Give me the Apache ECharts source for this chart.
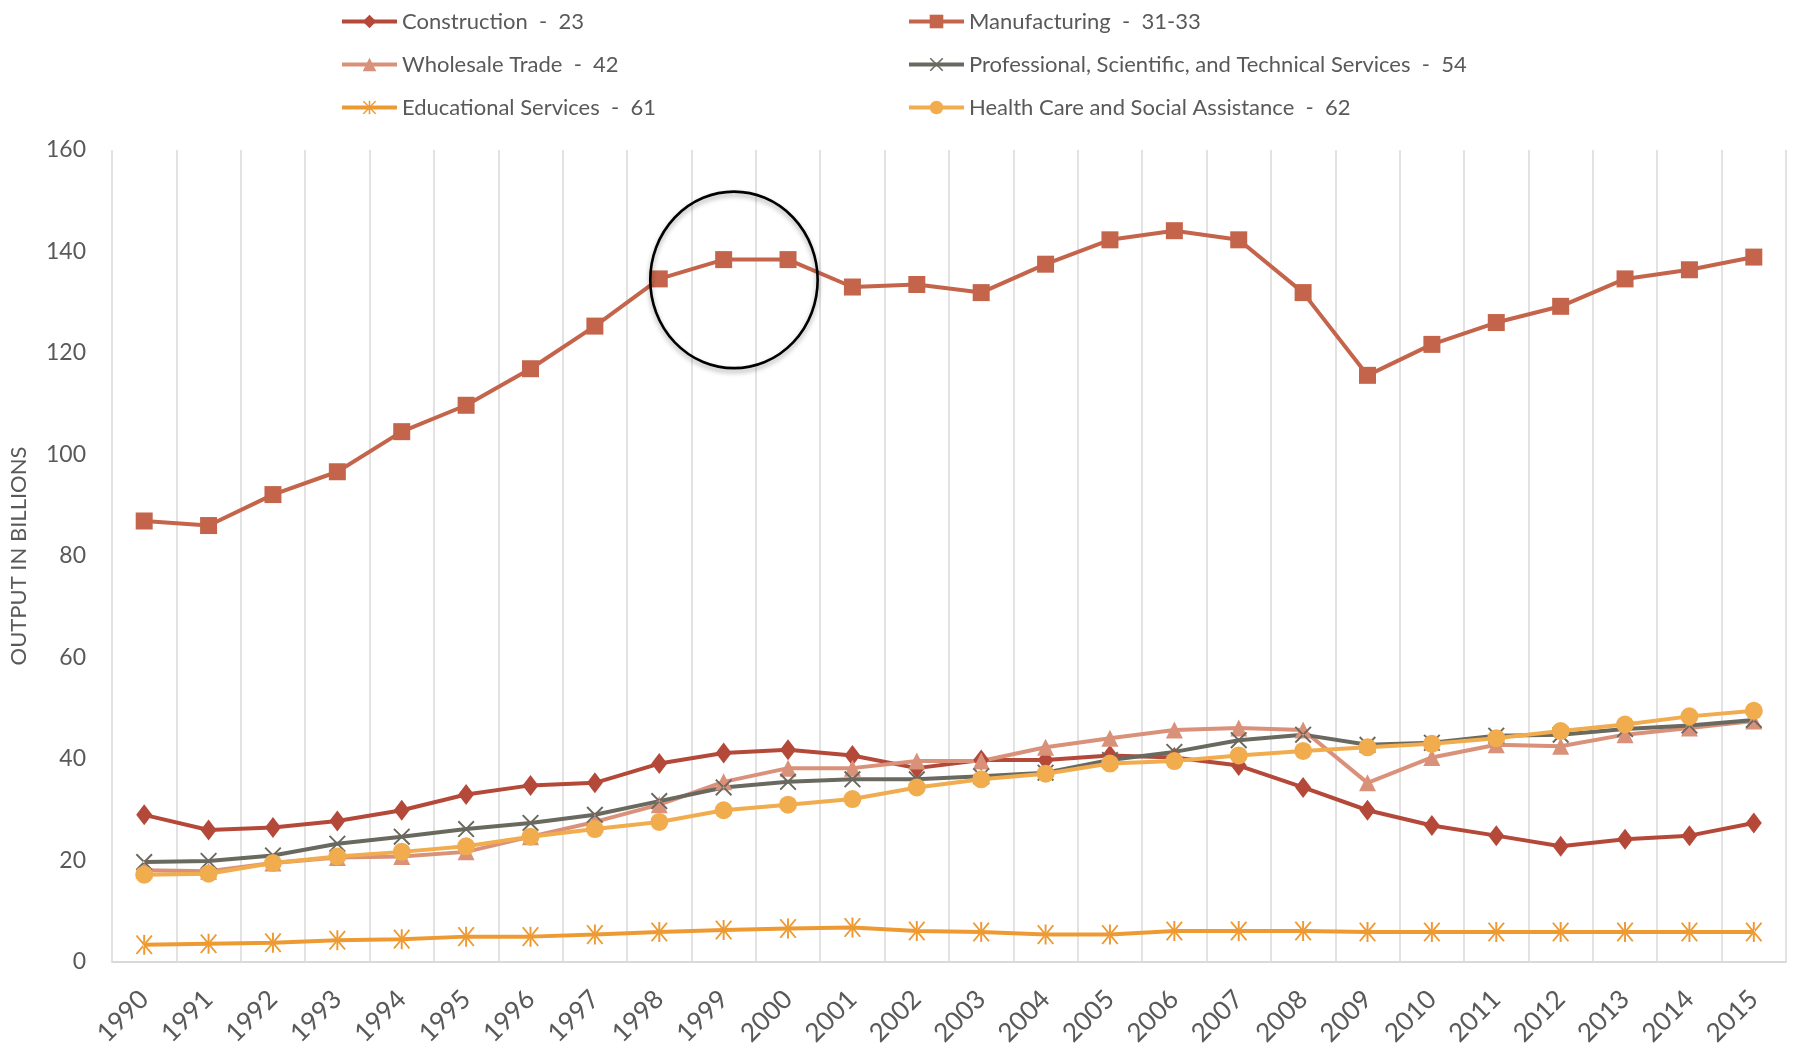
<!DOCTYPE html>
<html>
<head>
<meta charset="utf-8">
<script src="https://cdn.jsdelivr.net/npm/echarts@6/dist/echarts.min.js"></script>
<style>
  html, body { margin: 0; padding: 0; background: #fff; }
  #chart { width: 1800px; height: 1054px; }
</style>
</head>
<body>
<div id="chart"></div>
<script>
// categories
const years = ['1990', '1991', '1992', '1993', '1994', '1995', '1996', '1997', '1998', '1999',
  '2000', '2001', '2002', '2003', '2004', '2005', '2006', '2007', '2008', '2009',
  '2010', '2011', '2012', '2013', '2014', '2015'];

// output in billions
const construction = [29.0, 26.0, 26.5, 27.8, 29.9, 33.0, 34.8, 35.3, 39.1, 41.2,
  41.8, 40.7, 38.2, 39.8, 39.8, 40.7, 40.3, 38.7, 34.4, 29.9,
  26.9, 24.9, 22.8, 24.2, 24.9, 27.4];
const manufacturing = [86.9, 86.0, 92.1, 96.6, 104.5, 109.7, 116.9, 125.3, 134.6, 138.4,
  138.4, 133.0, 133.5, 131.9, 137.5, 142.3, 144.1, 142.3, 131.9, 115.6,
  121.7, 126.0, 129.2, 134.6, 136.4, 138.9];
const wholesale = [18.1, 17.9, 19.5, 20.6, 20.8, 21.7, 24.7, 27.6, 31.0, 35.5,
  38.2, 38.2, 39.6, 39.6, 42.3, 44.1, 45.7, 46.1, 45.7, 35.3,
  40.3, 42.8, 42.5, 44.8, 46.1, 47.5];
const professional = [19.7, 19.9, 21.0, 23.3, 24.7, 26.2, 27.4, 29.0, 31.7, 34.4,
  35.5, 36.0, 36.0, 36.6, 37.3, 39.8, 41.4, 43.7, 44.8, 42.8,
  43.2, 44.6, 44.8, 45.9, 46.6, 47.7];
const educational = [3.4, 3.6, 3.8, 4.3, 4.5, 5.0, 5.0, 5.4, 5.9, 6.3,
  6.6, 6.8, 6.1, 5.9, 5.4, 5.4, 6.1, 6.1, 6.1, 5.9,
  5.9, 5.9, 5.9, 5.9, 5.9, 5.9];
const healthCare = [17.2, 17.4, 19.5, 20.8, 21.7, 22.8, 24.7, 26.2, 27.6, 29.9,
  31.0, 32.1, 34.4, 36.0, 37.1, 39.1, 39.6, 40.7, 41.6, 42.3,
  43.0, 44.1, 45.5, 46.8, 48.4, 49.5];

const yTicks = { min: 0, max: 160, interval: 20 };

const FONT = 'Lato, "Open Sans", sans-serif';
const GREY = '#595959';

const xMark = 'path://M0,1.6L1.6,0L20,18.4L18.4,20Z M20,1.6L18.4,0L0,18.4L1.6,20Z';
const starMark = 'path://M9.1,0L10.9,0L10.9,20L9.1,20Z M2.2,1.2L3.6,0.2L17.8,18.8L16.4,19.8Z M17.8,1.2L16.4,0.2L2.2,18.8L3.6,19.8Z';

function line(name, data, color, symbol, size) {
  return {
    name: name,
    type: 'line',
    data: data,
    symbol: symbol,
    symbolSize: size,
    showAllSymbol: true,
    lineStyle: { color: color, width: 4 },
    itemStyle: { color: color },
    emphasis: { disabled: true },
    animation: false
  };
}

const chart = echarts.init(document.getElementById('chart'));

const legendText = { color: GREY, fontSize: 22, fontFamily: FONT, lineHeight: 23 };

chart.setOption({
  backgroundColor: '#fff',
  animation: false,
  legend: [
    {
      orient: 'vertical',
      left: 335, top: 5,
      itemWidth: 55, itemHeight: 17, itemGap: 20,
      lineStyle: { width: 4 },
      textStyle: legendText,
      data: ['Construction  -  23', 'Wholesale Trade  -  42', 'Educational Services  -  61']
    },
    {
      orient: 'vertical',
      left: 902, top: 5,
      itemWidth: 55, itemHeight: 17, itemGap: 20,
      lineStyle: { width: 4 },
      textStyle: legendText,
      data: ['Manufacturing  -  31-33', 'Professional, Scientific, and Technical Services  -  54',
        'Health Care and Social Assistance  -  62']
    }
  ],
  grid: { left: 112, right: 14, top: 150, bottom: 92, outerBoundsMode: 'none' },
  xAxis: {
    type: 'category',
    data: years,
    boundaryGap: true,
    axisLine: { show: true, lineStyle: { color: '#D9D9D9', width: 2 } },
    axisTick: { show: false },
    axisLabel: { rotate: 45, interval: 0, margin: 33, color: GREY, fontSize: 26, fontFamily: FONT },
    splitLine: { show: true, interval: 0, lineStyle: { color: '#D9D9D9', width: 1.5 } }
  },
  yAxis: {
    type: 'value',
    min: yTicks.min, max: yTicks.max, interval: yTicks.interval,
    name: 'OUTPUT IN BILLIONS',
    nameLocation: 'middle',
    nameGap: 82,
    nameTextStyle: { color: GREY, fontSize: 22, fontFamily: FONT },
    axisLine: { show: false },
    axisTick: { show: false },
    splitLine: { show: false },
    axisLabel: { margin: 26, color: GREY, fontSize: 23, fontFamily: FONT }
  },
  series: [
    line('Construction  -  23', construction, '#B4493A', 'diamond', [16, 21]),
    line('Manufacturing  -  31-33', manufacturing, '#C4644B', 'rect', 17),
    line('Wholesale Trade  -  42', wholesale, '#D9917A', 'triangle', 17),
    line('Professional, Scientific, and Technical Services  -  54', professional, '#6A695F', xMark, 17),
    line('Educational Services  -  61', educational, '#EE9A33', starMark, [17, 20]),
    line('Health Care and Social Assistance  -  62', healthCare, '#F1AC4E', 'circle', 18)
  ]
});

// highlight ring around the 1999-2000 peak
const p99 = chart.convertToPixel({ gridIndex: 0 }, ['1999', 134.4]);
const p00 = chart.convertToPixel({ gridIndex: 0 }, ['2000', 134.4]);
const pTop = chart.convertToPixel({ gridIndex: 0 }, ['1999', 151.8]);
const step = p00[0] - p99[0];
const rx = step * 1.3;
const ry = p99[1] - pTop[1];
chart.setOption({
  graphic: [{
    type: 'circle',
    x: p99[0] + step * 0.16,
    y: p99[1],
    scaleY: ry / rx,
    shape: { cx: 0, cy: 0, r: rx },
    style: {
      fill: 'none', stroke: '#000', lineWidth: 2.6,
      shadowBlur: 5, shadowColor: 'rgba(0,0,0,0.35)', shadowOffsetY: 3
    },
    z: 100
  }]
});
</script>
</body>
</html>
